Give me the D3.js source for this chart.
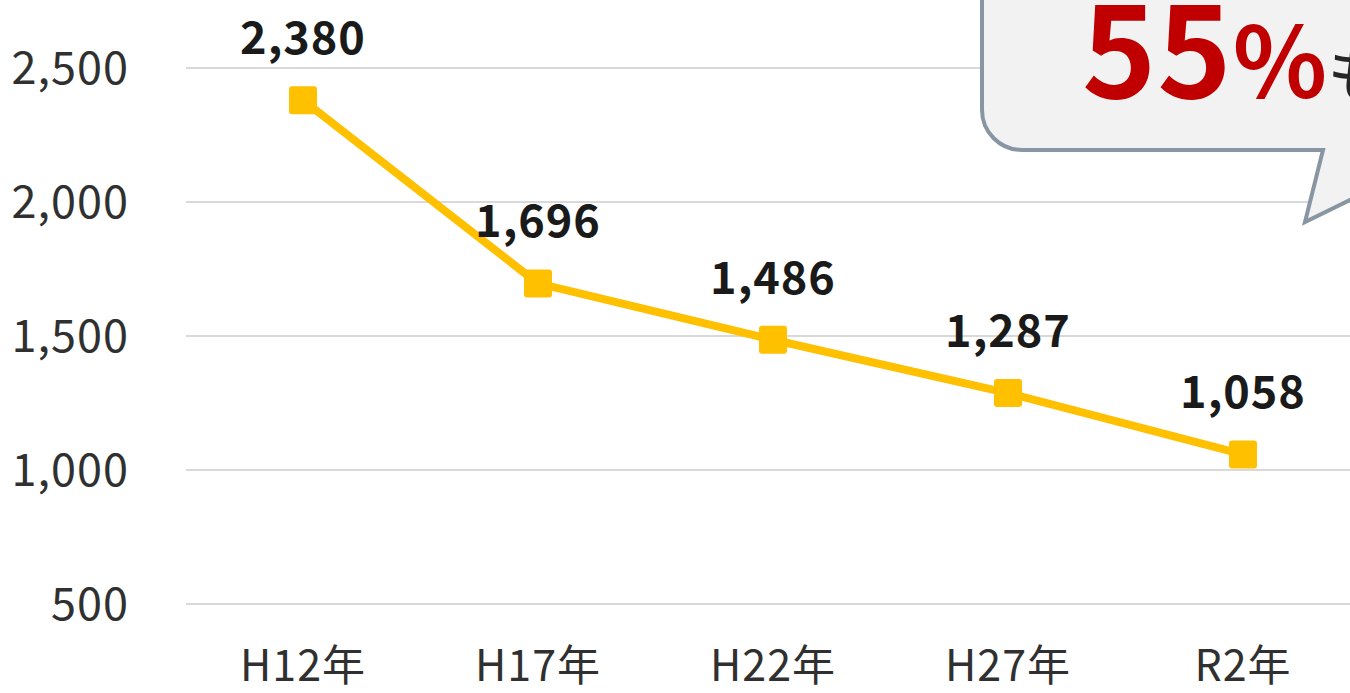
<!DOCTYPE html>
<html>
<head>
<meta charset="utf-8">
<script src="https://cdn.jsdelivr.net/npm/d3@7"></script>
<style>
  html, body { margin: 0; padding: 0; background: #fff; overflow: hidden; }
  svg { display: block; }
</style>
</head>
<body>
<script>
// chart data
var years = ['H12年', 'H17年', 'H22年', 'H27年', 'R2年'];
var values = [2380, 1696, 1486, 1287, 1058];
var yTicks = [500, 1000, 1500, 2000, 2500];

var width = 1350,
    height = 693;

var font = '"Noto Sans CJK JP", "Noto Sans", sans-serif';

var svg = d3.select('body')
  .append('svg')
  .attr('width', width)
  .attr('height', height);

// x positions: H12 at ~303, R2 at ~1243
var x = d3.scalePoint()
  .domain(years)
  .range([303, 1243]);

// y: 500 -> 604, 2500 -> 68
var y = d3.scaleLinear()
  .domain([500, 2500])
  .range([604, 68]);

// gridlines
svg.append('g')
  .selectAll('line')
  .data(yTicks)
  .enter().append('line')
  .attr('x1', 186)
  .attr('x2', width)
  .attr('y1', function(d) { return y(d); })
  .attr('y2', function(d) { return y(d); })
  .attr('stroke', '#d9d9d9')
  .attr('stroke-width', 2);

// y tick labels
svg.append('g')
  .selectAll('text')
  .data(yTicks)
  .enter().append('text')
  .attr('x', 129)
  .attr('y', function(d) { return y(d); })
  .attr('dy', '0.36em')
  .attr('text-anchor', 'end')
  .attr('font-family', font)
  .attr('font-size', 45)
  .attr('letter-spacing', 1)
  .attr('fill', '#303030')
  .text(function(d) { return d3.format(',')(d); });

// x labels
svg.append('g')
  .selectAll('text')
  .data(years)
  .enter().append('text')
  .attr('x', function(d) { return x(d); })
  .attr('y', 681)
  .attr('text-anchor', 'middle')
  .attr('font-family', font)
  .attr('font-size', 43)
  .attr('letter-spacing', 1)
  .attr('fill', '#303030')
  .text(function(d) { return d; });

// callout bubble in the top right corner
var bubble = d3.path();
bubble.moveTo(982, -20);
bubble.lineTo(982, 110);
bubble.arcTo(982, 150, 1022, 150, 40);
bubble.lineTo(1323, 150);
bubble.lineTo(1305, 222);
bubble.lineTo(1360, 195);
bubble.lineTo(1360, -20);
svg.append('path')
  .attr('d', bubble.toString())
  .attr('fill', '#f2f2f2')
  .attr('stroke', '#8896a3')
  .attr('stroke-width', 4);

var callout = svg.append('text')
  .attr('x', 1082)
  .attr('y', 98)
  .attr('font-family', font)
  .attr('font-weight', 'bold');
callout.append('tspan')
  .attr('font-size', 126)
  .attr('letter-spacing', 1)
  .attr('fill', '#c00000')
  .text('55');
callout.append('tspan')
  .attr('font-size', 98)
  .attr('fill', '#c00000')
  .text('%');
callout.append('tspan')
  .attr('font-size', 66)
  .attr('font-weight', 'normal')
  .attr('fill', '#262626')
  .text('も減少');

// line
var line = d3.line()
  .x(function(d, i) { return x(years[i]); })
  .y(function(d) { return y(d); });

svg.append('path')
  .datum(values)
  .attr('d', line)
  .attr('fill', 'none')
  .attr('stroke', '#ffc000')
  .attr('stroke-width', 8)
  .attr('stroke-linejoin', 'round');

// square markers
svg.append('g')
  .selectAll('rect')
  .data(values)
  .enter().append('rect')
  .attr('x', function(d, i) { return x(years[i]) - 14; })
  .attr('y', function(d) { return y(d) - 14; })
  .attr('width', 28)
  .attr('height', 28)
  .attr('rx', 3)
  .attr('fill', '#ffc000');

// data labels
svg.append('g')
  .selectAll('text')
  .data(values)
  .enter().append('text')
  .attr('x', function(d, i) { return x(years[i]); })
  .attr('y', function(d) { return y(d) - 46; })
  .attr('text-anchor', 'middle')
  .attr('font-family', font)
  .attr('font-weight', 'bold')
  .attr('font-size', 45)
  .attr('letter-spacing', 1)
  .attr('fill', '#1a1a1a')
  .text(function(d) { return d3.format(',')(d); });
</script>
</body>
</html>
